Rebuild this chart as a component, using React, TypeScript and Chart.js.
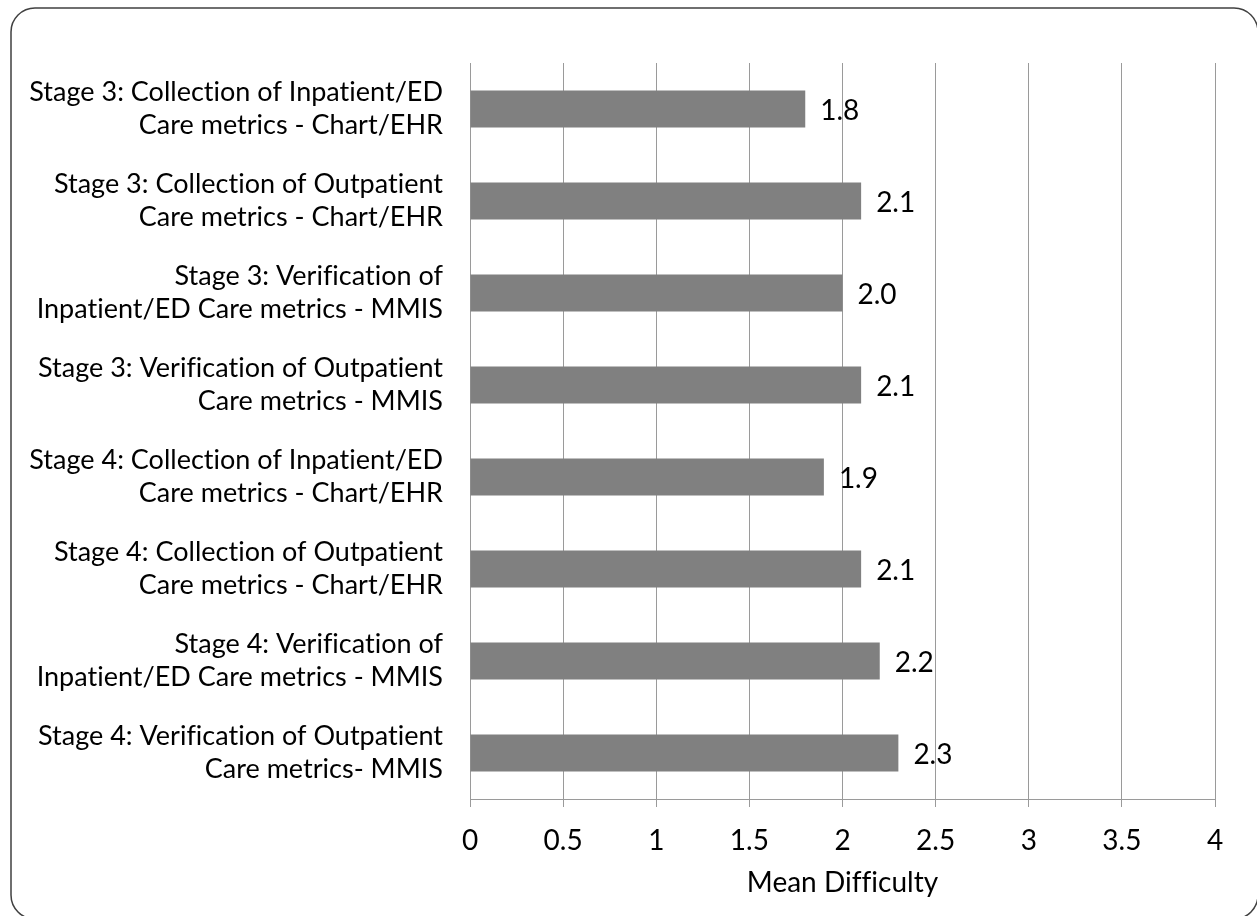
import React, { useEffect, useRef } from "react";
import { Chart, registerables } from "chart.js";

Chart.register(...registerables);

const categories: string[][] = [
  ["Stage 3: Collection of Inpatient/ED", "Care metrics - Chart/EHR"],
  ["Stage 3: Collection of Outpatient", "Care metrics - Chart/EHR"],
  ["Stage 3: Verification of", "Inpatient/ED Care metrics - MMIS"],
  ["Stage 3: Verification of Outpatient", "Care metrics - MMIS"],
  ["Stage 4: Collection of Inpatient/ED", "Care metrics - Chart/EHR"],
  ["Stage 4: Collection of Outpatient", "Care metrics - Chart/EHR"],
  ["Stage 4: Verification of", "Inpatient/ED Care metrics - MMIS"],
  ["Stage 4: Verification of Outpatient", "Care metrics- MMIS"],
];
const meanDifficulty: number[] = [1.8, 2.1, 2.0, 2.1, 1.9, 2.1, 2.2, 2.3];
const xTickLabels: string[] = ["0", "0.5", "1", "1.5", "2", "2.5", "3", "3.5", "4"];
const axisTitle = "Mean Difficulty";

const W = 1257;
const H = 916;
const FONT = "Lato";
const GRID = "#9a9a9a";

const framePlugin = {
  id: "frame",
  beforeDraw(chart: any) {
    const ctx = chart.ctx;
    // disable ligatures (e.g. "ti") so text renders letter by letter
    try {
      (ctx as any).textRendering = "optimizeSpeed";
      (ctx as any).letterSpacing = "0.01px";
    } catch (e) {}
    ctx.save();
    ctx.fillStyle = "#ffffff";
    ctx.fillRect(0, 0, chart.width, chart.height);
    const x = 11, y = 8, w = 1247, h = 911, r = 24;
    ctx.beginPath();
    ctx.moveTo(x + r, y);
    ctx.lineTo(x + w - r, y);
    ctx.arcTo(x + w, y, x + w, y + r, r);
    ctx.lineTo(x + w, y + h - r);
    ctx.arcTo(x + w, y + h, x + w - r, y + h, r);
    ctx.lineTo(x + r, y + h);
    ctx.arcTo(x, y + h, x, y + h - r, r);
    ctx.lineTo(x, y + r);
    ctx.arcTo(x, y, x + r, y, r);
    ctx.closePath();
    ctx.strokeStyle = "#404040";
    ctx.lineWidth = 1.5;
    ctx.stroke();
    ctx.restore();
  },
};

const valueLabelPlugin = {
  id: "valueLabels",
  afterDatasetsDraw(chart: any) {
    const ctx = chart.ctx;
    const meta = chart.getDatasetMeta(0);
    ctx.save();
    ctx.font = `28px ${FONT}`;
    ctx.fillStyle = "#000000";
    ctx.textAlign = "left";
    ctx.textBaseline = "middle";
    meta.data.forEach((bar: any, i: number) => {
      const v = meanDifficulty[i];
      ctx.fillText(v.toFixed(1), bar.x + 15, bar.y + 2);
    });
    ctx.restore();
  },
};

export default function App() {
  const ref = useRef<HTMLCanvasElement | null>(null);

  useEffect(() => {
    if (!ref.current) return;
    const chart = new Chart(ref.current, {
      type: "bar",
      data: {
        labels: categories,
        datasets: [
          {
            data: meanDifficulty,
            backgroundColor: "#808080",
            borderWidth: 0,
            categoryPercentage: 1,
            barPercentage: 0.4,
          },
        ],
      },
      options: {
        indexAxis: "y",
        animation: false,
        responsive: false,
        maintainAspectRatio: false,
        layout: { padding: { left: 0, right: 42, top: 63, bottom: 0 } },
        plugins: {
          legend: { display: false },
          tooltip: { enabled: false },
        },
        scales: {
          x: {
            min: 0,
            max: 4,
            ticks: {
              stepSize: 0.5,
              color: "#000000",
              font: { family: FONT, size: 28 },
              padding: 17,
              callback: (_v: any, i: number) => xTickLabels[i],
            },
            grid: {
              color: GRID,
              lineWidth: 1,
              drawTicks: true,
              tickLength: 8,
              tickColor: GRID,
            },
            border: { display: true, color: GRID, width: 1 },
            title: {
              display: true,
              text: axisTitle,
              color: "#000000",
              font: { family: FONT, size: 28 },
              padding: { top: 0, bottom: 16 },
            },
            afterFit: (scale: any) => {
              scale.height = 117;
            },
          },
          y: {
            ticks: {
              color: "#000000",
              font: { family: FONT, size: 27, lineHeight: 1.24 },
              padding: 27,
            },
            grid: { display: false, drawTicks: false },
            border: { display: true, color: GRID, width: 1 },
            afterFit: (scale: any) => {
              scale.width = 470;
            },
          },
        },
      },
      plugins: [framePlugin, valueLabelPlugin],
    });
    return () => chart.destroy();
  }, []);

  return (
    <div style={{ position: "fixed", left: 0, top: 0, width: W, height: H, background: "#fff" }}>
      <canvas ref={ref} width={W} height={H} style={{ display: "block" }} />
    </div>
  );
}
